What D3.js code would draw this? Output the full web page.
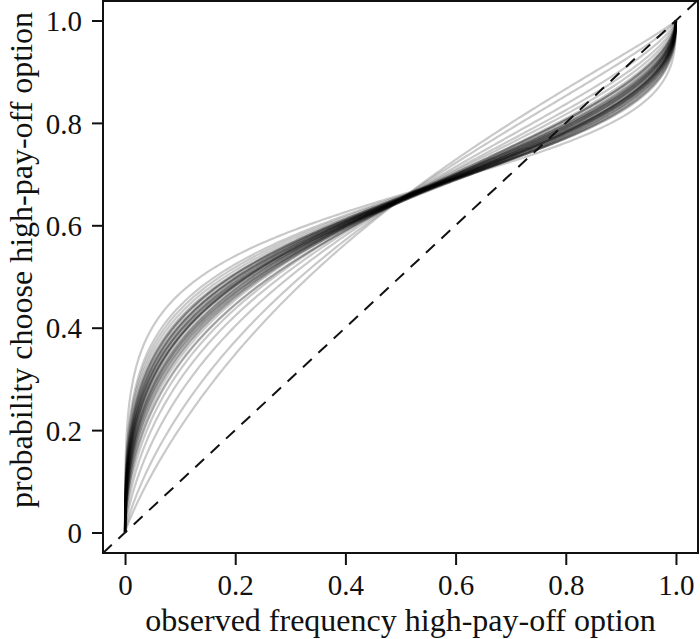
<!DOCTYPE html>
<html><head><meta charset="utf-8">
<script src="https://cdn.jsdelivr.net/npm/d3@7"></script>
<style>body{margin:0;background:#fff}svg{display:block}text{font-family:"Liberation Serif","Times New Roman",serif;fill:#111}</style>
</head><body>
<script>
// Per-curve parameters: P = logistic(bias + slope * logit(p))
const bias  = [0.66,0.65,0.64,0.63,0.62,0.63,0.62,0.64,0.61,0.63,0.62,0.60,0.64,0.62,0.61,0.63,0.62,0.60,0.61,0.63,0.62,0.64,0.61,0.60,0.62,0.63,0.61,0.62,0.60,0.62,0.61,0.63,0.62,0.60,0.61,0.62,0.62,0.62,0.62,0.62];
const slope = [0.36,0.40,0.41,0.42,0.43,0.44,0.44,0.45,0.45,0.46,0.46,0.47,0.47,0.47,0.48,0.48,0.48,0.49,0.49,0.50,0.50,0.51,0.51,0.52,0.52,0.53,0.53,0.54,0.54,0.55,0.56,0.57,0.58,0.59,0.60,0.63,0.67,0.73,0.82,0.90];
const xTicks = [0,0.2,0.4,0.6,0.8,1.0];
const yTicks = [0,0.2,0.4,0.6,0.8,1.0];
const tickLabels = ["0","0.2","0.4","0.6","0.8","1.0"];
const xTitle = "observed frequency high-pay-off option";
const yTitle = "probability choose high-pay-off option";

const W=700,H=639;
const L=103,R=698,T=1,B=553;
const x=d3.scaleLinear().domain([-0.04,1.04]).range([L,R]);
const y=d3.scaleLinear().domain([-0.04,1.04]).range([B,T-1]);
const svg=d3.select("body").append("svg").attr("width",W).attr("height",H);

svg.append("clipPath").attr("id","clip").append("rect").attr("x",L).attr("y",T).attr("width",R-L).attr("height",B-T);

// p grid, dense near 0 and 1
let grid=[0];
for(let k=-9;k<-2;k+=0.1) grid.push(Math.pow(10,k));
for(let p=0.01;p<0.99;p+=0.005) grid.push(p);
for(let k=-2;k>=-9;k-=0.1) grid.push(1-Math.pow(10,k));
grid.push(1);
grid.sort((a,b)=>a-b);

const f=(p,b,c)=>{ if(p<=0) return 0; if(p>=1) return 1; const lo=b+c*Math.log(p/(1-p)); return 1/(1+Math.exp(-lo)); };
const line=d3.line().x(d=>x(d[0])).y(d=>y(d[1]));
const g=svg.append("g").attr("clip-path","url(#clip)");
bias.forEach((b,i)=>{
  g.append("path").attr("d",line(grid.map(p=>[p,f(p,b,slope[i])])))
   .attr("fill","none").attr("stroke","rgba(0,0,0,0.21)").attr("stroke-width",2.2);
});
g.append("line").attr("x1",x(-0.04)).attr("y1",y(-0.04)).attr("x2",x(1.04)).attr("y2",y(1.04))
 .attr("stroke","#111").attr("stroke-width",2).attr("stroke-dasharray","12,9");

svg.append("rect").attr("x",L).attr("y",T).attr("width",R-L).attr("height",B-T)
 .attr("fill","none").attr("stroke","#111").attr("stroke-width",2);

const fs=29, ft=32;
const xa=svg.append("g").attr("transform",`translate(0,${B})`)
 .call(d3.axisBottom(x).tickValues(xTicks).tickSize(12).tickFormat((d,i)=>tickLabels[i]));
const ya=svg.append("g").attr("transform",`translate(${L},0)`)
 .call(d3.axisLeft(y).tickValues(yTicks).tickSize(11).tickFormat((d,i)=>tickLabels[i]));
[xa,ya].forEach(a=>{a.select(".domain").remove();a.selectAll(".tick line").attr("stroke","#111").attr("stroke-width",2);
 a.selectAll(".tick text").style("font-size",fs+"px").attr("fill","#111");});
xa.selectAll(".tick text").attr("dy",null).attr("y",42);
ya.selectAll(".tick text").attr("x",-21).attr("dy","0.35em");

svg.append("text").attr("x",(L+R)/2).attr("y",631).attr("text-anchor","middle").style("font-size",ft+"px").text(xTitle);
svg.append("text").attr("transform",`translate(32,260) rotate(-90)`).attr("text-anchor","middle").style("font-size",ft+"px").text(yTitle);
</script>
</body></html>
